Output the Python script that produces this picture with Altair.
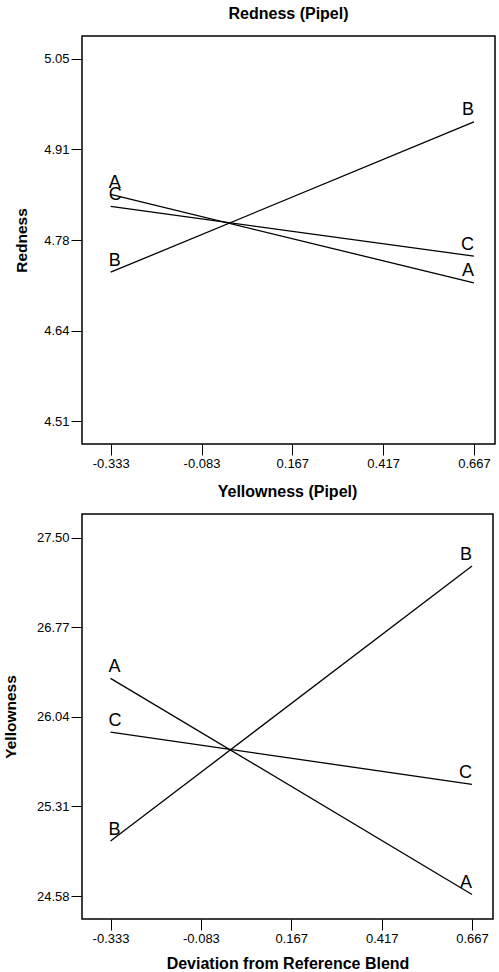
import altair as alt
import pandas as pd

# ---- data ----
series = ["A", "B", "C"]
x_levels = [-0.333, 0.667]

redness_A = [4.848, 4.716]
redness_B = [4.732, 4.956]
redness_C = [4.830, 4.756]

yellowness_A = [26.354, 24.593]
yellowness_B = [25.028, 27.269]
yellowness_C = [25.916, 25.490]

x_ticks = [-0.333, -0.083, 0.167, 0.417, 0.667]
x_tick_labels = ["-0.333", "-0.083", "0.167", "0.417", "0.667"]

red_ticks = [4.51, 4.645, 4.78, 4.915, 5.05]
red_tick_labels = ["4.51", "4.64", "4.78", "4.91", "5.05"]

yel_ticks = [24.58, 25.31, 26.04, 26.77, 27.50]
yel_tick_labels = ["24.58", "25.31", "26.04", "26.77", "27.50"]

FONT = "Liberation Sans"


def label_expr(vals, labels):
    expr = "''"
    for v, l in reversed(list(zip(vals, labels))):
        expr = f"abs(datum.value - ({v})) < 0.0001 ? '{l}' : ({expr})"
    return expr


def make_df(a, b, c):
    vals = {"A": a, "B": b, "C": c}
    rows = []
    for s in series:
        for i, x in enumerate(x_levels):
            rows.append({"series": s, "x": x, "y": vals[s][i],
                         "side": "left" if i == 0 else "right"})
    return pd.DataFrame(rows)


def panel(df, title, ytitle, ydomain, yticks, ylabels, xtitle, w, h, ytitlepad):
    x_axis_kwargs = dict(values=x_ticks, labelExpr=label_expr(x_ticks, x_tick_labels),
                         titlePadding=10, titleFontSize=16)
    if xtitle:
        x_axis_kwargs["title"] = xtitle
    else:
        x_axis_kwargs["title"] = None
    xenc = alt.X("x:Q", scale=alt.Scale(domain=[-0.412, 0.725], nice=False, zero=False),
                 axis=alt.Axis(**x_axis_kwargs))
    yenc = alt.Y("y:Q", scale=alt.Scale(domain=ydomain, nice=False, zero=False),
                 axis=alt.Axis(values=yticks, labelExpr=label_expr(yticks, ylabels),
                               title=ytitle, titlePadding=ytitlepad, titleFontSize=15.5))
    base = alt.Chart(df)
    lines = base.mark_line(color="black", strokeWidth=1.3).encode(
        x=xenc, y=yenc, detail="series:N")
    left_txt = base.transform_filter(alt.datum.side == "left").mark_text(
        align="left", baseline="alphabetic", dx=-2, dy=-6.5, fontSize=18, font=FONT,
        color="black").encode(x=xenc, y=yenc, text="series:N")
    right_txt = base.transform_filter(alt.datum.side == "right").mark_text(
        align="right", baseline="alphabetic", dx=0, dy=-6.5, fontSize=18, font=FONT,
        color="black").encode(x=xenc, y=yenc, text="series:N")
    return alt.layer(lines, left_txt, right_txt).properties(
        width=w, height=h, title=alt.Title(title))


top = panel(make_df(redness_A, redness_B, redness_C), "Redness (Pipel)", "Redness",
            [4.476, 5.084], red_ticks, red_tick_labels, None, 413, 408, 14)
bottom = panel(make_df(yellowness_A, yellowness_B, yellowness_C), "Yellowness (Pipel)",
               "Yellowness", [24.393, 27.693], yel_ticks, yel_tick_labels,
               "Deviation from Reference Blend", 411, 405, 18)

chart = alt.vconcat(top, bottom, spacing=12).configure_view(
    stroke="black", strokeWidth=1.5
).configure_axis(
    domain=False, grid=False, tickColor="black", tickSize=11, tickWidth=1,
    labelPadding=2, labelFont=FONT, labelFontSize=13, labelColor="black",
    titleFont=FONT, titleFontWeight="bold", titleColor="black"
).configure_title(
    font=FONT, fontSize=16, fontWeight="bold", color="black", offset=14, anchor="middle"
).properties(
    padding={"left": 2, "top": 5, "right": 0, "bottom": 0},
    background="white"
)

chart.save("out.html", embed_options={"renderer": "svg", "actions": False})
